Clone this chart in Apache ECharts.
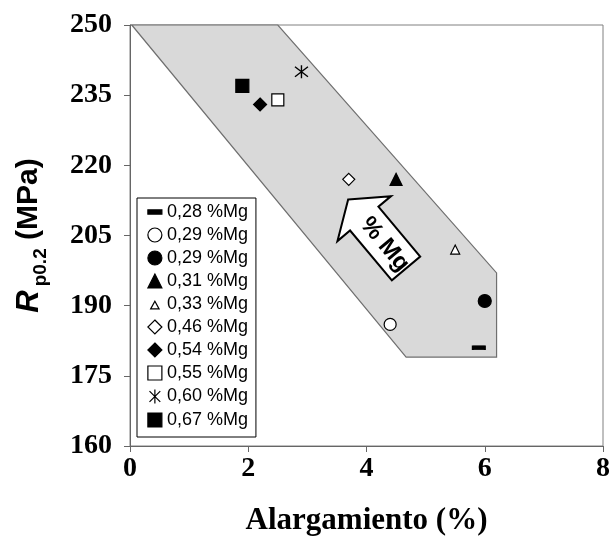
<!DOCTYPE html>
<html>
<head>
<meta charset="utf-8">
<script src="https://cdn.jsdelivr.net/npm/echarts@6/dist/echarts.min.js"></script>
<style>
  html, body { margin: 0; padding: 0; background: #fff; }
  #chart { width: 611px; height: 536px; }
</style>
</head>
<body>
<div id="chart"></div>
<script>
// Alloy compositions (legend entries) and their measured properties
const alloyLabels = ['0,28 %Mg', '0,29 %Mg', '0,29 %Mg ', '0,31 %Mg', '0,33 %Mg',
                     '0,46 %Mg', '0,54 %Mg', '0,55 %Mg', '0,60 %Mg', '0,67 %Mg'];
const elongation = [5.9, 4.4, 6.0, 4.5, 5.5, 3.7, 2.2, 2.5, 2.9, 1.9];   // %
const yieldStrength = [181, 186, 191, 217, 202, 217, 233, 234, 240, 237]; // MPa

// Shaded band enclosing the results (elongation %, MPa)
const bandX = [0.03, 2.5, 6.2, 6.2, 4.67];
const bandY = [250, 250, 197, 179, 179];

// Arrow annotation tip (elongation %, MPa)
const arrowTip = [3.69, 212.7];

const xTicks = [0, 2, 4, 6, 8];
const yTicks = [160, 175, 190, 205, 220, 235, 250];

// Marker per composition
const ASTERISK = 'path://M0,0L10,10M10,0L0,10M5,-1.5L5,11.5';
const DASH = 'path://M0,0H10V3H0Z';
const markers = [
  { symbol: DASH, size: [12, 4], fill: '#000' },
  { symbol: 'circle', size: 12, fill: '#fff' },
  { symbol: 'circle', size: 13, fill: '#000' },
  { symbol: 'triangle', size: 12, fill: '#000' },
  { symbol: 'triangle', size: 9, fill: '#fff' },
  { symbol: 'diamond', size: 12, fill: '#fff' },
  { symbol: 'diamond', size: 13, fill: '#000' },
  { symbol: 'rect', size: 12, fill: '#fff' },
  { symbol: ASTERISK, size: 13, fill: 'none' },
  { symbol: 'rect', size: 13, fill: '#000' }
];

const serif = '"Liberation Serif", "Times New Roman", serif';
const sans = '"Liberation Sans", Arial, sans-serif';

const scatterSeries = alloyLabels.map((name, i) => ({
  type: 'scatter',
  name: name,
  z: 5,
  symbol: markers[i].symbol,
  symbolSize: markers[i].size,
  itemStyle: {
    color: markers[i].fill,
    borderColor: '#000',
    borderWidth: markers[i].symbol === ASTERISK ? 1.4 : 1.2,
    opacity: 1
  },
  emphasis: { disabled: true },
  data: [[elongation[i], yieldStrength[i]]]
}));

const bandSeries = {
  type: 'custom',
  name: 'band',
  z: 1,
  silent: true,
  data: [[bandX[0], bandY[0]]],
  renderItem: function (params, api) {
    const pts = bandX.map((x, k) => api.coord([x, bandY[k]]));
    return {
      type: 'polygon',
      shape: { points: pts },
      style: { fill: '#d9d9d9', stroke: '#6f6f6f', lineWidth: 1.2 }
    };
  }
};

const arrowSeries = {
  type: 'custom',
  name: 'arrow',
  z: 3,
  silent: true,
  data: [arrowTip],
  renderItem: function (params, api) {
    const p = api.coord(arrowTip);
    return {
      type: 'group',
      x: p[0],
      y: p[1],
      rotation: -50 * Math.PI / 180,
      children: [
        {
          type: 'polygon',
          shape: { points: [[0, 0], [25, -35], [25, -18.5], [90, -18.5], [90, 18.5], [25, 18.5], [25, 35]] },
          style: { fill: '#fff', stroke: '#000', lineWidth: 2 }
        },
        {
          type: 'text',
          x: 58,
          y: 1,
          style: {
            text: '% Mg',
            font: 'bold 24px ' + sans,
            fill: '#000',
            align: 'center',
            verticalAlign: 'middle'
          }
        }
      ]
    };
  }
};

const chart = echarts.init(document.getElementById('chart'), null, { renderer: 'canvas' });
chart.setOption({
  animation: false,
  backgroundColor: '#fff',
  grid: {
    left: 130, right: 8, top: 25, bottom: 90,
    outerBoundsMode: 'none',
    containLabel: false,
    show: true, borderColor: '#808080', borderWidth: 1, backgroundColor: 'transparent'
  },
  legend: {
    data: alloyLabels.map((name, i) => i === 4
      ? { name: name, icon: 'path://M0,0M20,20M4,17L10,6L16,17Z' }
      : { name: name }),
    orient: 'vertical',
    left: 137,
    top: 198,
    padding: [5, 3, 8, 10],
    itemWidth: 14,
    itemHeight: 14,
    itemGap: 5,
    backgroundColor: '#fff',
    borderColor: '#000',
    borderWidth: 1,
    borderRadius: 0,
    selectedMode: false,
    itemStyle: { borderWidth: 1.2 },
    textStyle: { fontFamily: sans, fontSize: 18, color: '#000', lineHeight: 18 }
  },
  xAxis: {
    type: 'value',
    min: xTicks[0],
    max: xTicks[xTicks.length - 1],
    interval: 2,
    name: 'Alargamiento (%)',
    nameLocation: 'middle',
    nameGap: 59,
    nameTextStyle: { fontFamily: serif, fontWeight: 'bold', fontSize: 31, color: '#000' },
    axisLine: { show: true, lineStyle: { color: '#666', width: 1 } },
    axisTick: { show: true, inside: false, length: 6, lineStyle: { color: '#666' } },
    axisLabel: { margin: 9, fontFamily: serif, fontWeight: 'bold', fontSize: 28, color: '#000' },
    splitLine: { show: false }
  },
  yAxis: {
    type: 'value',
    min: yTicks[0],
    max: yTicks[yTicks.length - 1],
    interval: 15,
    name: '{i|R}{s|p0.2}{b| (MPa)}',
    nameLocation: 'middle',
    nameGap: 78,
    nameTextStyle: {
      color: '#000',
      rich: {
        i: { fontFamily: sans, fontWeight: 'bold', fontStyle: 'italic', fontSize: 31, lineHeight: 38, verticalAlign: 'top', color: '#000' },
        s: { fontFamily: sans, fontWeight: 'bold', fontSize: 19, lineHeight: 38, verticalAlign: 'top', padding: [17, 0, 0, 4], color: '#000' },
        b: { fontFamily: sans, fontWeight: 'bold', fontSize: 30, lineHeight: 38, verticalAlign: 'top', color: '#000' }
      }
    },
    axisLine: { show: true, lineStyle: { color: '#666', width: 1 } },
    axisTick: { show: true, inside: false, length: 6, lineStyle: { color: '#666' } },
    axisLabel: { margin: 18, fontFamily: serif, fontWeight: 'bold', fontSize: 28, color: '#000' },
    splitLine: { show: false }
  },
  series: [bandSeries, arrowSeries].concat(scatterSeries)
});
</script>
</body>
</html>
